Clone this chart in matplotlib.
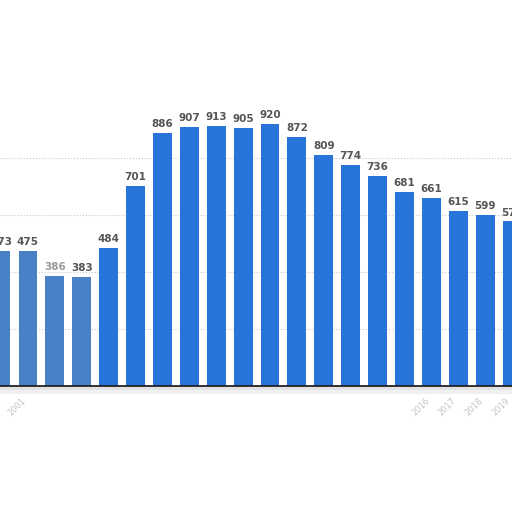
import matplotlib
matplotlib.use('Agg')
import matplotlib.pyplot as plt

# values per year (first and last bars are cut at the picture edge)
years = ['2000', '2001', '2002', '2003', '2004', '2005', '2006', '2007', '2008', '2009',
         '2010', '2011', '2012', '2013', '2014', '2015', '2016', '2017', '2018', '2019']
values = [473, 475, 386, 383, 484, 701, 886, 907, 913, 905,
          920, 872, 809, 774, 736, 681, 661, 615, 599, 577]
# only a few year labels survive in the picture
shown_years = ['2001', '2016', '2017', '2018', '2019']

fig = plt.figure(figsize=(5.12, 5.12), dpi=100)
ax = fig.add_axes([0, 0.246, 1, 0.557])

x = list(range(len(values)))
colors = ['#4a80c8' if i < 4 else '#2874d9' for i in x]
ax.bar(x, values, width=0.7, color=colors, zorder=3)

for i, v in enumerate(values):
    c = '#9a9a9a' if i == 2 else '#555555'
    ax.text(i, v + 14, str(v), ha='center', va='bottom', fontsize=7.5,
            fontweight='bold', color=c, zorder=4)

ax.set_xlim(-0.04, 18.85)
ax.set_ylim(0, 1000)
ax.set_yticks([200, 400, 600, 800])
ax.yaxis.grid(True, linestyle=':', color='#c8c8c8', linewidth=0.8, zorder=0)
ax.tick_params(left=False, labelleft=False, bottom=False)

ax.set_xticks(x)
ax.set_xticklabels([y if y in shown_years else '' for y in years],
                   rotation=45, ha='right', fontsize=6, color='#c4c4c4')

for s in ['top', 'right', 'left']:
    ax.spines[s].set_visible(False)
ax.spines['bottom'].set_color('#222222')
ax.spines['bottom'].set_linewidth(1.3)
ax.spines['bottom'].set_zorder(5)

# soft gray shadow under the base line
ax.axhline(-12, color='#e2e2e2', linewidth=4, clip_on=False, zorder=1)
ax.axhline(-22, color='#f0f0f0', linewidth=3, clip_on=False, zorder=1)

fig.savefig('out.png', dpi=100)
